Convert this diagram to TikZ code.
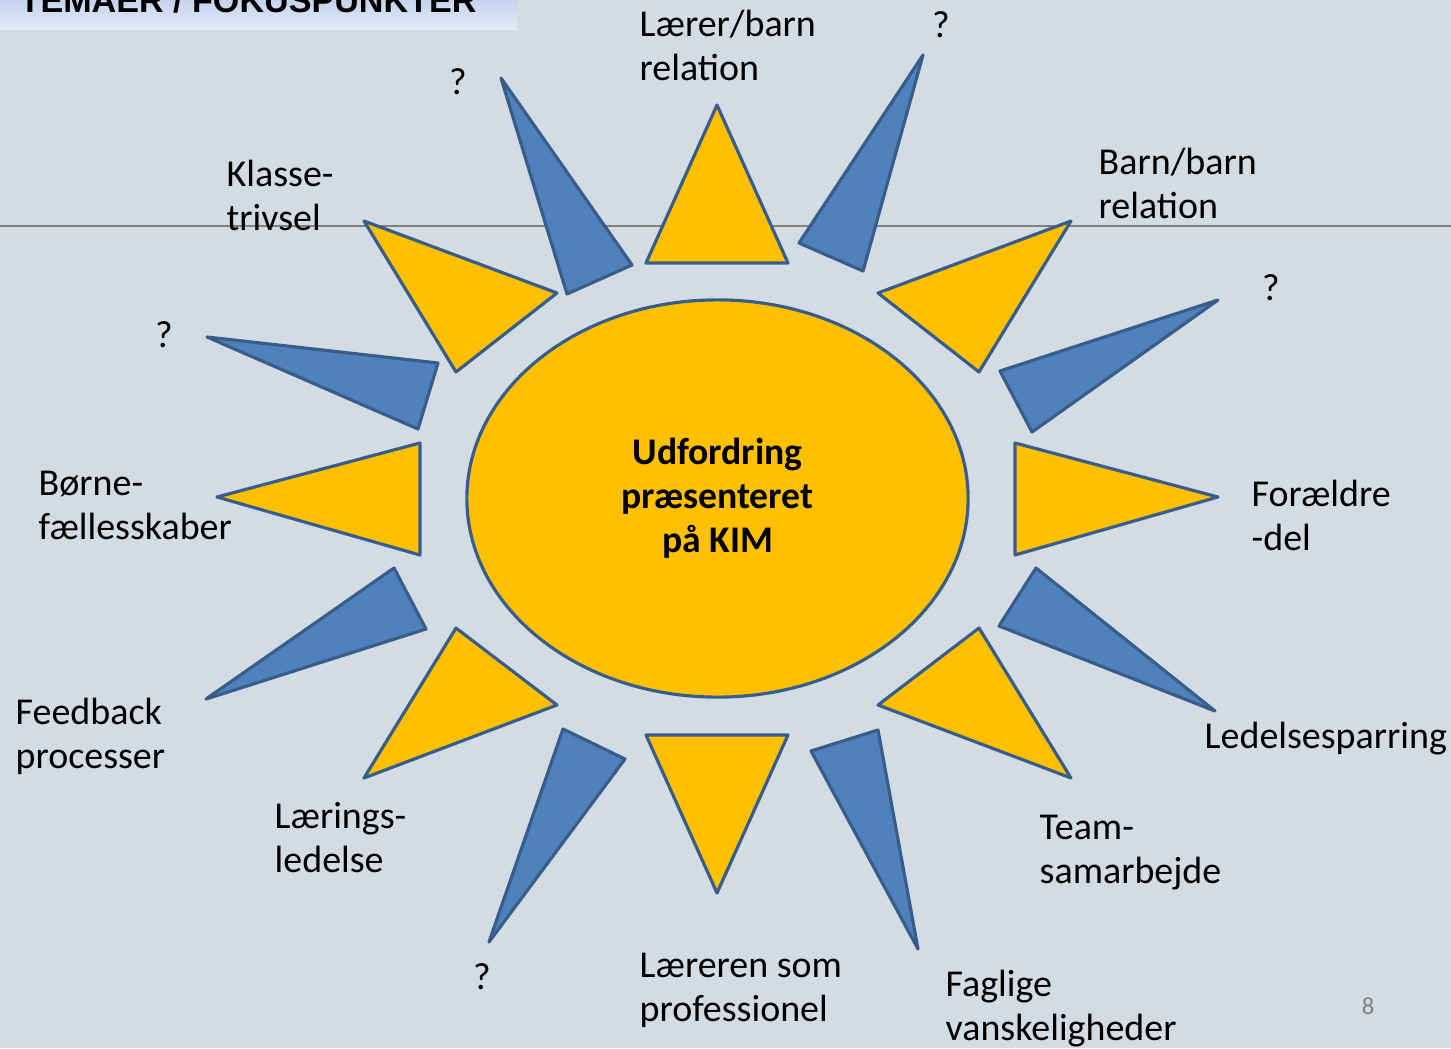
\documentclass[tikz,border=0pt]{standalone}
\usepackage{fontspec}
\setmainfont{Carlito}
\newfontfamily\headfont{Liberation Sans}
\usetikzlibrary{shapes.geometric}
\definecolor{slidebg}{RGB}{211, 220, 227}
\definecolor{sunyellow}{RGB}{255, 192, 0}
\definecolor{rayblue}{RGB}{79, 129, 189}
\definecolor{rayedge}{RGB}{56, 93, 138}
\definecolor{headtop}{RGB}{197, 211, 238}
\definecolor{headbottom}{RGB}{228, 234, 246}

\begin{document}
\begin{tikzpicture}[
    x=0.01cm, y=-0.01cm,
    yellowray/.style={fill=sunyellow, draw=rayedge, line width=0.9pt, line join=round},
    blueray/.style={fill=rayblue, draw=rayedge, line width=0.9pt, line join=round},
    hub/.style={ellipse, fill=sunyellow, draw=rayedge, line width=0.9pt, minimum width=5.01cm, minimum height=3.97cm, inner sep=0pt, align=center, font=\fontsize{10.7}{12.5}\selectfont\bfseries},
    theme/.style={anchor=base west, align=left, inner sep=0pt, font=\fontsize{10.8}{12.5}\selectfont},
    qmark/.style={anchor=base, inner sep=0pt, font=\fontsize{10.8}{12.5}\selectfont}
]
    % Slide background
    \fill[slidebg] (0,0) rectangle (1451,1048);
    \useasboundingbox (0,0) rectangle (1451,1048);
    \shade[top color=headtop, bottom color=headbottom] (0,0) rectangle (517,29);
    \node[anchor=base west, inner sep=0pt, font=\headfont\bfseries\fontsize{9.7}{11}\selectfont] (head) at (19,12) {TEMAER / FOKUSPUNKTER};
    \draw[gray, line width=0.4pt] (0,226) -- (1451,226);

    % Yellow rays
    \filldraw[yellowray] (717,105) -- (646,263) -- (788,263) -- cycle;
    \filldraw[yellowray] (1071,221) -- (878,293) -- (979,372) -- cycle;
    \filldraw[yellowray] (1218,497) -- (1015,443) -- (1015,555) -- cycle;
    \filldraw[yellowray] (1071,778) -- (878,705) -- (979,628) -- cycle;
    \filldraw[yellowray] (717,893) -- (646,735) -- (788,735) -- cycle;
    \filldraw[yellowray] (364,778) -- (557,705) -- (456,628) -- cycle;
    \filldraw[yellowray] (217,497) -- (420,443) -- (420,555) -- cycle;
    \filldraw[yellowray] (364,221) -- (557,293) -- (456,372) -- cycle;

    % Blue rays
    \filldraw[blueray] (501,78) -- (567,294) -- (632,265) -- cycle;
    \filldraw[blueray] (923,55) -- (799,243) -- (863,271) -- cycle;
    \filldraw[blueray] (1218,300) -- (1000,371) -- (1032,432) -- cycle;
    \filldraw[blueray] (1215,711) -- (1036,568) -- (999,626) -- cycle;
    \filldraw[blueray] (918,949) -- (811,751) -- (878,730) -- cycle;
    \filldraw[blueray] (489,942) -- (563,729) -- (625,759) -- cycle;
    \filldraw[blueray] (206,699) -- (394,568) -- (426,629) -- cycle;
    \filldraw[blueray] (207,337) -- (438,363) -- (418,429) -- cycle;

    % Sun
    \node[hub] (kim) at (717.5,498.5) {Udfordring\\præsenteret\\på KIM};

    % Themes (base = last line)
    \node[theme] (laererbarn) at (639,80) {Lærer/barn\\relation};
    \node[theme] (barnbarn) at (1098,218) {Barn/barn\\relation};
    \node[theme] (klasse) at (226,230) {Klasse-\\trivsel};
    \node[theme] (boerne) at (38,539) {Børne-\\fællesskaber};
    \node[theme] (foraeldre) at (1251,550) {Forældre\\-del};
    \node[theme] (feedback) at (15,768) {Feedback\\processer};
    \node[theme] (ledelse) at (1204,748) {Ledelsesparring};
    \node[theme] (laering) at (274,872) {Lærings-\\ledelse};
    \node[theme] (team) at (1039,883) {Team-\\samarbejde};
    \node[theme] (laereren) at (639,1021) {Læreren som\\professionel};
    \node[theme] (faglige) at (945,1040) {Faglige\\vanskeligheder};

    % Open themes
    \node[qmark] (q1) at (941,37) {?};
    \node[qmark] (q2) at (458,94) {?};
    \node[qmark] (q3) at (1271,300) {?};
    \node[qmark] (q4) at (164,347) {?};
    \node[qmark] (q5) at (482,989) {?};

    % Page number
    \node[inner sep=0pt, text=gray, font=\fontsize{7}{8}\selectfont] (page) at (1368,1006) {8};
\end{tikzpicture}
\end{document}
